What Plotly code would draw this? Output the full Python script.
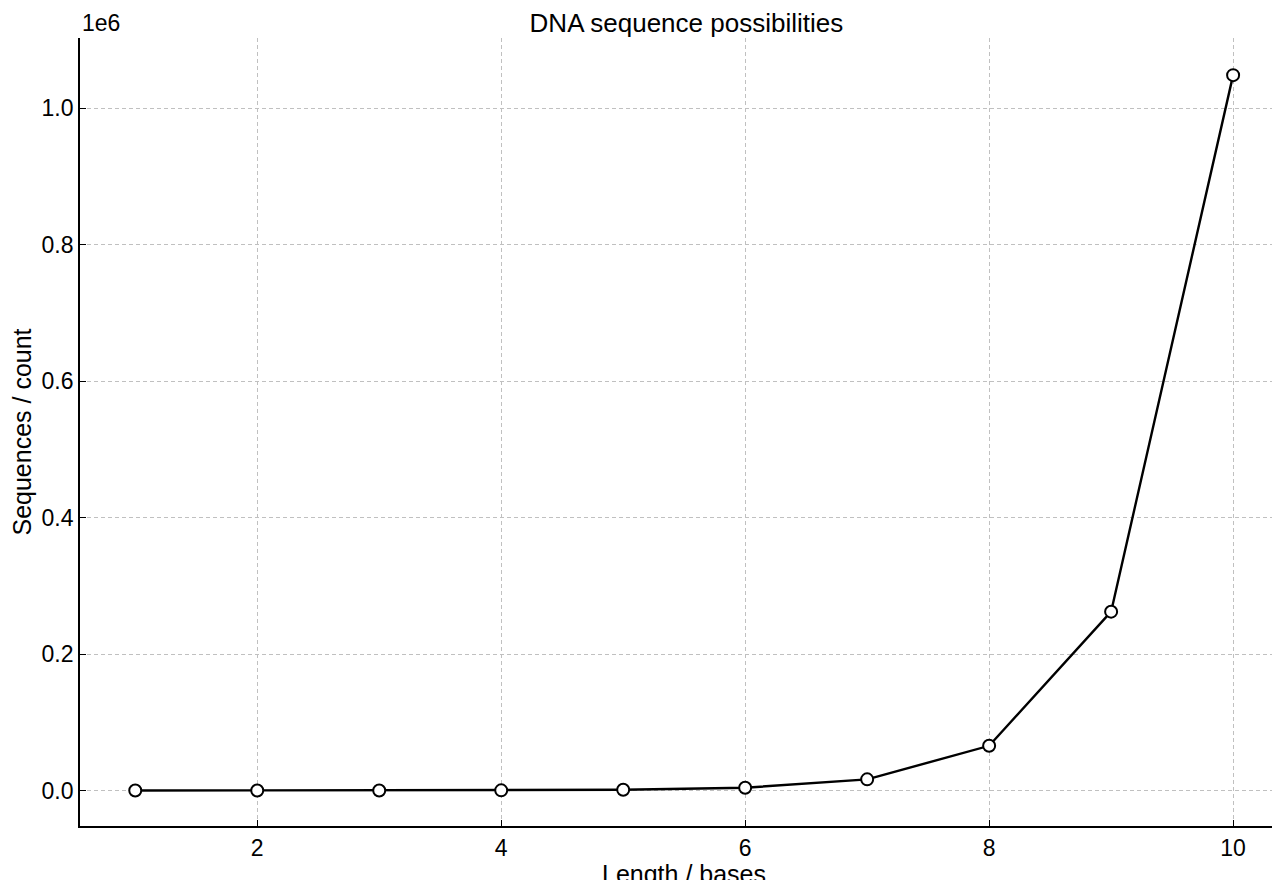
import plotly.graph_objects as go

lengths = [1, 2, 3, 4, 5, 6, 7, 8, 9, 10]
counts = [4, 16, 64, 256, 1024, 4096, 16384, 65536, 262144, 1048576]
ytick_vals = [0, 200000, 400000, 600000, 800000, 1000000]
ytick_text = ["0.0", "0.2", "0.4", "0.6", "0.8", "1.0"]
xtick_vals = [2, 4, 6, 8, 10]

fig = go.Figure(go.Scatter(
    x=lengths, y=counts, mode="lines+markers",
    line=dict(color="black", width=2.4),
    marker=dict(size=12, color="white", line=dict(color="black", width=2)),
))
grid = dict(showgrid=True, gridcolor="#c0c0c0", griddash="4px,3px", gridwidth=1,
            showline=True, linecolor="black", linewidth=1.8,
            ticks="inside", ticklen=6, tickcolor="black", zeroline=False,
            tickfont=dict(size=23, color="black"))
fig.update_layout(
    width=1280, height=880, plot_bgcolor="white", paper_bgcolor="white",
    font=dict(family="Liberation Sans, Arial, sans-serif", color="black"),
    margin=dict(l=72, r=0, t=30, b=60),
    showlegend=False,
    title=dict(text="DNA sequence possibilities", x=0.53, xanchor="center",
               y=0.983, yanchor="middle", font=dict(size=26)),
    xaxis=dict(range=[0.547, 10.45], tickvals=xtick_vals,
               title=dict(text="Length / bases", font=dict(size=25), standoff=10), **grid),
    yaxis=dict(range=[-52000, 1103000], tickvals=ytick_vals, ticktext=ytick_text,
               title=dict(text="Sequences / count", font=dict(size=25), standoff=12), **grid),
    annotations=[dict(text="1e6", xref="paper", yref="paper", x=0, y=1.0,
                      xanchor="left", yanchor="bottom", showarrow=False,
                      font=dict(size=23), yshift=0)],
)
fig.write_html("out.html")
